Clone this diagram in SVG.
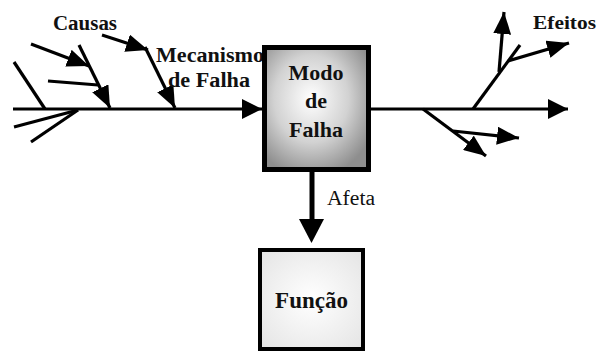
<svg xmlns="http://www.w3.org/2000/svg" width="597" height="351" viewBox="0 0 597 351">
<defs>
<style>
.ln{stroke:#000;stroke-width:3.2;fill:none;stroke-linecap:butt}
text{font-family:'Liberation Serif','Times New Roman','DejaVu Serif',serif;fill:#111}
.b{font-weight:bold}
</style>
<marker id="ah" markerUnits="userSpaceOnUse" markerWidth="22" markerHeight="18" refX="22" refY="9" orient="auto">
<path d="M0,0 L22,9 L0,18 z" fill="#000"/>
</marker>
<marker id="ahm" markerUnits="userSpaceOnUse" markerWidth="20" markerHeight="20" refX="20" refY="10" orient="auto">
<path d="M0,0 L20,10 L0,20 z" fill="#000"/>
</marker>
<radialGradient id="gModo" cx="0.45" cy="0.42" r="0.65">
<stop offset="0" stop-color="#ffffff"/>
<stop offset="0.55" stop-color="#d2d2d2"/>
<stop offset="1" stop-color="#8e8e8e"/>
</radialGradient>
<radialGradient id="gFunc" cx="0.5" cy="0.5" r="0.7">
<stop offset="0" stop-color="#ffffff"/>
<stop offset="1" stop-color="#e4e4e4"/>
</radialGradient>
</defs>
<rect width="597" height="351" fill="#fff"/>

<g id="connectors">
<line class="ln" x1="13" y1="109" x2="262" y2="109" marker-end="url(#ahm)"/>
<line class="ln" x1="14" y1="62" x2="45" y2="109"/>
<line class="ln" x1="14" y1="127" x2="78" y2="110"/>
<line class="ln" x1="31" y1="142" x2="78" y2="110"/>
<line class="ln" x1="31" y1="44" x2="89" y2="66" marker-end="url(#ah)"/>
<line class="ln" x1="79" y1="45" x2="110" y2="108" marker-end="url(#ah)"/>
<line class="ln" x1="48" y1="81" x2="98" y2="85"/>
<line class="ln" x1="102" y1="35" x2="148" y2="50" marker-end="url(#ah)"/>
<line class="ln" x1="145" y1="47" x2="175" y2="108" marker-end="url(#ah)"/>

<line class="ln" x1="371" y1="109" x2="568" y2="109" marker-end="url(#ahm)"/>
<line class="ln" x1="423" y1="109" x2="486" y2="156" marker-end="url(#ah)"/>
<line class="ln" x1="453" y1="131" x2="519" y2="138" marker-end="url(#ah)"/>
<line class="ln" x1="473" y1="109" x2="520" y2="45"/>
<line class="ln" x1="499" y1="72" x2="504" y2="12" marker-end="url(#ah)"/>
<line class="ln" x1="508" y1="61" x2="569" y2="43" marker-end="url(#ah)"/>

<line x1="312" y1="172" x2="312" y2="222" stroke="#000" stroke-width="5"/>
<path d="M299,219 L324,219 L311.5,243 z" fill="#000"/>
</g>

<g id="labels">
<text class="b" x="53" y="30" font-size="20" textLength="64" lengthAdjust="spacingAndGlyphs">Causas</text>
<text class="b" x="156" y="62" font-size="20" textLength="108" lengthAdjust="spacingAndGlyphs">Mecanismo</text>
<text class="b" x="168" y="87" font-size="20" textLength="82" lengthAdjust="spacingAndGlyphs">de Falha</text>
<text class="b" x="533" y="29" font-size="19" textLength="63" lengthAdjust="spacingAndGlyphs">Efeitos</text>
<text x="327" y="205" font-size="20" textLength="48" lengthAdjust="spacingAndGlyphs">Afeta</text>
</g>

<g id="modo">
<rect x="264.5" y="47.5" width="104" height="122" fill="url(#gModo)" stroke="#000" stroke-width="5"/>
<text class="b" x="316" y="80" font-size="22" text-anchor="middle">Modo</text>
<text class="b" x="316" y="108" font-size="22" text-anchor="middle">de</text>
<text class="b" x="316" y="137" font-size="22" text-anchor="middle">Falha</text>
</g>

<g id="funcao">
<rect x="260" y="250" width="103" height="99" fill="url(#gFunc)" stroke="#000" stroke-width="4"/>
<text class="b" x="311.5" y="308" font-size="23" text-anchor="middle">Função</text>
</g>
</svg>
